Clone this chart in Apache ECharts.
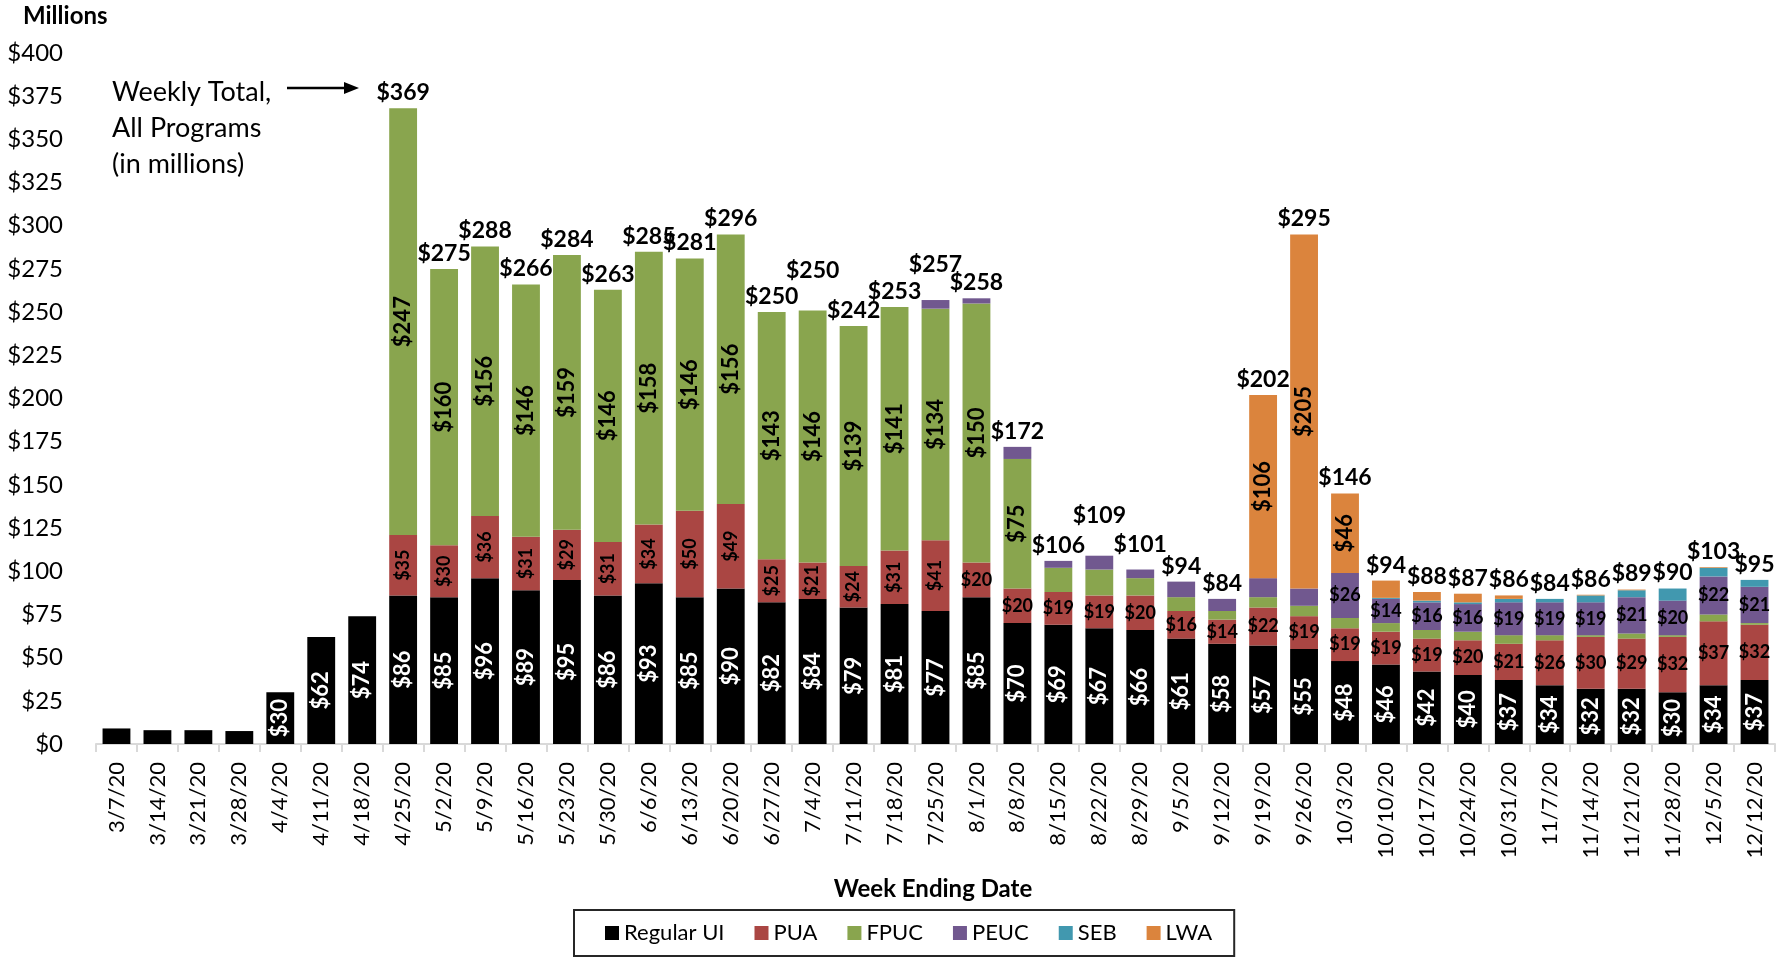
<!DOCTYPE html>
<html>
<head>
<meta charset="utf-8">
<script src="https://cdn.jsdelivr.net/npm/echarts@6/dist/echarts.min.js"></script>
<style>
html,body{margin:0;padding:0;background:#fff;}
#chart{width:1791px;height:959px;}
</style>
</head>
<body>
<div id="chart"></div>
<script>
// ---------- DATA (millions of dollars) ----------
const weeks = ['3/7/20','3/14/20','3/21/20','3/28/20','4/4/20','4/11/20','4/18/20','4/25/20','5/2/20','5/9/20',
  '5/16/20','5/23/20','5/30/20','6/6/20','6/13/20','6/20/20','6/27/20','7/4/20','7/11/20','7/18/20',
  '7/25/20','8/1/20','8/8/20','8/15/20','8/22/20','8/29/20','9/5/20','9/12/20','9/19/20','9/26/20',
  '10/3/20','10/10/20','10/17/20','10/24/20','10/31/20','11/7/20','11/14/20','11/21/20','11/28/20','12/5/20','12/12/20'];

const regularUI = [9,8,8,7.5,30,62,74,86,85,96,89,95,86,93,85,90,82,84,79,81,77,85,70,69,67,66,61,58,57,55,48,46,42,40,37,34,32,32,30,34,37];
const pua       = [0,0,0,0,0,0,0,35,30,36,31,29,31,34,50,49,25,21,24,31,41,20,20,19,19,20,16,14,22,19,19,19,19,20,21,26,30,29,32,37,32];
const fpuc      = [0,0,0,0,0,0,0,247,160,156,146,159,146,158,146,156,143,146,139,141,134,150,75,14,15,10,8,5,6,6,6,5,5,5,5,3,1,3,1,4,1];
const peuc      = [0,0,0,0,0,0,0,0,0,0,0,0,0,0,0,0,0,0,0,0,5,3,7,4,8,5,9,7,11,10,26,14,16,16,19,19,19,21,20,22,21];
const seb       = [0,0,0,0,0,0,0,0,0,0,0,0,0,0,0,0,0,0,0,0,0,0,0,0,0,0,0,0,0,0,0,0.6,1,1,2,2,4,4,7,5,4];
const lwa       = [0,0,0,0,0,0,0,0,0,0,0,0,0,0,0,0,0,0,0,0,0,0,0,0,0,0,0,0,106,205,46,10,5,5,2,0,0.4,0.4,0,0.4,0];
const totals    = [null,null,null,null,null,null,null,369,275,288,266,284,263,285,281,296,250,250,242,253,257,258,172,106,109,101,94,84,202,295,146,94,88,87,86,84,86,89,90,103,95];

const yTicks = { min: 0, max: 400, step: 25 };

// ---------- STYLE ----------
const FONT = 'Lato';
const colors = { ui:'#000000', pua:'#AA4643', fpuc:'#89A54E', peuc:'#71588F', seb:'#4198AF', lwa:'#DB843D' };
// Excel nudged a few total labels upward to avoid collisions (pixels)
const totalLabelRaise = { '7/4/20': 24, '7/25/20': 20, '8/22/20': 25, '8/29/20': 9 };
const puaRotateLastIdx = weeks.indexOf('7/25/20');

function lbl(show, opts) {
  if (!show) return { show: false };
  return Object.assign({ show: true, position: 'inside', fontFamily: FONT, fontWeight: 'bold', color: '#000' }, opts);
}

function seriesData(values, labelFn) {
  return values.map((v, i) => ({ value: v, label: labelFn(v, i) }));
}

const money = p => '$' + Math.round(p.value);

const series = [
  { name: 'Regular UI', color: colors.ui,
    data: seriesData(regularUI, v => lbl(v >= 20, { rotate: 90, fontSize: 22, color: '#fff', formatter: money })) },
  { name: 'PUA', color: colors.pua,
    data: seriesData(pua, (v, i) => lbl(v > 0, { rotate: i <= puaRotateLastIdx ? 90 : 0, fontSize: 18, formatter: money })) },
  { name: 'FPUC', color: colors.fpuc,
    data: seriesData(fpuc, v => lbl(v >= 50, { rotate: 90, fontSize: 22, formatter: money })) },
  { name: 'PEUC', color: colors.peuc,
    data: seriesData(peuc, v => lbl(v >= 14, { rotate: 0, fontSize: 18, formatter: money })) },
  { name: 'SEB', color: colors.seb,
    data: seriesData(seb, () => ({ show: false })) },
  { name: 'LWA', color: colors.lwa,
    data: seriesData(lwa, v => lbl(v >= 40, { rotate: 90, fontSize: 22, formatter: money })) }
].map(s => ({
  type: 'bar', stack: 'total', name: s.name, data: s.data,
  itemStyle: { color: s.color }, barCategoryGap: '32%',
  emphasis: { disabled: true }
}));

// Zero-height bar on top of every stack carries the weekly total label
series.push({
  type: 'bar', stack: 'total', name: 'Total',
  data: totals.map((t, i) => ({
    value: 0,
    label: t == null ? { show: false } : {
      show: true, position: 'top', distance: 4 + (totalLabelRaise[weeks[i]] || 0),
      formatter: '$' + t, fontFamily: FONT, fontWeight: 'bold', fontSize: 23, color: '#000'
    }
  })),
  itemStyle: { color: 'transparent' }, emphasis: { disabled: true }
});

const chart = echarts.init(document.getElementById('chart'), null, { renderer: 'canvas' });
chart.setOption({
  animation: false,
  backgroundColor: '#fff',
  textStyle: { fontFamily: FONT },
  grid: { left: 96, right: 16, top: 53, bottom: 215, containLabel: false },
  legend: {
    data: ['Regular UI', 'PUA', 'FPUC', 'PEUC', 'SEB', 'LWA'],
    left: 574, top: 910,
    orient: 'horizontal',
    icon: 'rect', itemWidth: 14, itemHeight: 14, itemGap: 30,
    padding: [12, 22, 12, 31],
    borderColor: '#262626', borderWidth: 2,
    textStyle: { fontFamily: FONT, fontSize: 22, color: '#000', padding: [0, 0, 0, 0] },
    selectedMode: false
  },
  xAxis: {
    type: 'category', data: weeks,
    axisLine: { lineStyle: { color: '#d9d9d9', width: 2 } },
    axisTick: { show: true, alignWithLabel: false, length: 8, lineStyle: { color: '#d9d9d9', width: 2 } },
    axisLabel: { rotate: 90, fontFamily: FONT, fontSize: 22, color: '#000', margin: 18, interval: 0 }
  },
  yAxis: {
    type: 'value', min: yTicks.min, max: yTicks.max, interval: yTicks.step,
    axisLine: { show: false }, axisTick: { show: false }, splitLine: { show: false },
    axisLabel: { fontFamily: FONT, fontSize: 24, color: '#000', margin: 33, formatter: v => '$' + v }
  },
  graphic: [
    { type: 'text', x: 23, y: 16, style: { text: 'Millions', fontFamily: FONT, fontWeight: 'bold', fontSize: 24, fill: '#000', textVerticalAlign: 'middle' } },
    { type: 'text', x: 933, y: 889, style: { text: 'Week Ending Date', fontFamily: FONT, fontWeight: 'bold', fontSize: 24, fill: '#000', textAlign: 'center', textVerticalAlign: 'middle' } },
    { type: 'text', x: 112, y: 92, style: { text: 'Weekly Total,', fontFamily: FONT, fontSize: 27, fill: '#000', textVerticalAlign: 'middle' } },
    { type: 'text', x: 112, y: 128, style: { text: 'All Programs', fontFamily: FONT, fontSize: 27, fill: '#000', textVerticalAlign: 'middle' } },
    { type: 'text', x: 112, y: 164, style: { text: '(in millions)', fontFamily: FONT, fontSize: 27, fill: '#000', textVerticalAlign: 'middle' } },
    { type: 'line', shape: { x1: 287, y1: 88, x2: 346, y2: 88 }, style: { stroke: '#000', lineWidth: 2.5 } },
    { type: 'polygon', shape: { points: [[344, 82], [359, 88], [344, 94]] }, style: { fill: '#000' } }
  ],
  series: series
});
</script>
</body>
</html>
